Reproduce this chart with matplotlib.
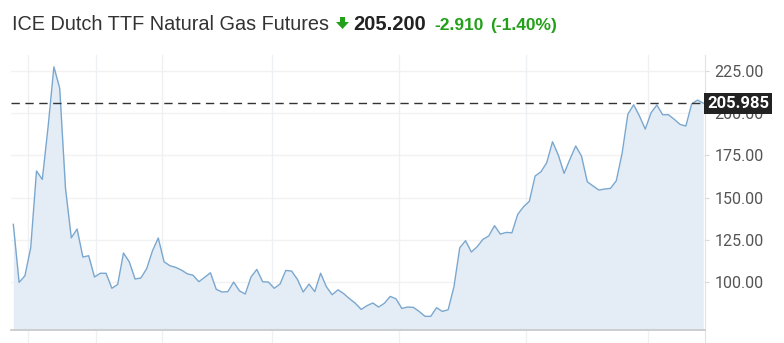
import matplotlib.pyplot as plt
from matplotlib.patches import FancyArrow
from matplotlib.transforms import IdentityTransform

# Daily settlement prices (EUR/MWh)
prices = [134.2, 99.8, 103.7, 120.3, 165.8, 160.8, 192.0, 227.5, 214.8, 155.5,
          126.2, 131.4, 114.8, 115.6, 103.0, 105.2, 105.2, 96.3, 98.6, 117.2,
          112.0, 101.8, 102.4, 107.9, 118.5, 126.1, 112.0, 109.7, 108.7, 107.1,
          104.9, 104.0, 100.2, 102.8, 105.5, 95.7, 94.1, 94.3, 100.0, 94.8,
          92.9, 103.0, 107.5, 100.2, 100.0, 96.3, 98.8, 106.9, 106.5, 101.6,
          94.1, 98.8, 94.3, 105.2, 97.2, 92.5, 95.4, 93.1, 90.1, 87.4,
          83.8, 86.0, 87.6, 85.2, 87.4, 91.5, 90.1, 84.4, 85.2, 85.0,
          82.6, 79.7, 79.7, 84.8, 82.6, 83.6, 97.2, 120.3, 124.5, 117.8,
          120.9, 125.3, 127.3, 133.4, 128.4, 129.4, 129.2, 140.1, 144.6, 147.8,
          162.8, 165.3, 170.7, 183.1, 175.2, 164.4, 172.7, 180.6, 174.6, 159.4,
          156.9, 154.5, 155.1, 155.5, 160.0, 176.2, 199.5, 205.0, 198.3, 190.6,
          200.3, 204.9, 199.1, 199.1, 196.4, 193.4, 192.4, 205.5, 207.8, 205.985]
days = list(range(len(prices)))

y_ticks = [100, 125, 150, 175, 200, 225]
month_lines = [2.6, 14.2, 25.6, 44.6, 66.6, 88.4, 109.4]

last_price = prices[-1]
title = "ICE Dutch TTF Natural Gas Futures"
quote = "205.200"
change = "-2.910"
change_pct = "(-1.40%)"

line_color = '#7aa7cf'
fill_color = '#e4edf5'
green = '#23a01a'

fig = plt.figure(figsize=(7.84, 3.43), dpi=100)
ax = fig.add_axes([11 / 784, 13 / 343, 694 / 784, 275 / 343])

ax.fill_between(days, prices, 60, color=fill_color, linewidth=0, zorder=1)
ax.plot(days, prices, color=line_color, linewidth=1.0, zorder=3)
ax.axhline(last_price, color='#333333', linewidth=1.0, dashes=(6, 4), zorder=4)

ax.set_xlim(-0.4, 119.3)
ax.set_ylim(71.6, 234.5)

# grid
for y in y_ticks:
    ax.axhline(y, color='#f2f2f2', linewidth=1.0, zorder=0)
for x in month_lines:
    ax.axvline(x, ymin=-0.05, ymax=1, color='#eef1f4', linewidth=1.0,
               clip_on=False, zorder=0)

ax.set_xticks([])
ax.yaxis.tick_right()
ax.set_yticks(y_ticks)
ax.set_yticklabels(['%.2f' % v for v in y_ticks])
ax.tick_params(axis='y', length=3, color='#d8d8d8', labelsize=11.5,
               labelcolor='#555555', pad=4)
for lbl in ax.get_yticklabels():
    lbl.set_fontfamily('Roboto')

for side in ['top', 'left']:
    ax.spines[side].set_visible(False)
ax.spines['bottom'].set_color('#c8c8c8')
ax.spines['bottom'].set_linewidth(1.2)
ax.spines['right'].set_color('#e2e2e2')
ax.spines['right'].set_bounds(71.6 - 0.05 * (234.5 - 71.6), 234.5)
ax.spines['right'].set_clip_on(False)

# last price tag
ax.text(1.003, last_price, '%.3f' % last_price, transform=ax.get_yaxis_transform(),
        ha='left', va='center', color='white', fontsize=12, fontweight='bold',
        family='Roboto', zorder=6,
        bbox=dict(boxstyle='square,pad=0.18', facecolor='#222222', edgecolor='none'))

# header
base_y = 313 / 343
fig.text(12 / 784, base_y, title, fontsize=14.3, color='#333333',
         family='Liberation Sans', va='baseline')
arrow = FancyArrow(342.5, 326, 0, -12, width=5, head_width=13, head_length=7,
                   length_includes_head=True, color=green, linewidth=0,
                   transform=IdentityTransform())
fig.add_artist(arrow)
fig.text(353 / 784, base_y, quote, fontsize=14.5, color='#222222',
         fontweight='bold', family='Liberation Sans', va='baseline')
fig.text(434 / 784, base_y, change, fontsize=12.5, color=green,
         fontweight='bold', family='Liberation Sans', va='baseline')
fig.text(490 / 784, base_y, change_pct, fontsize=12.5, color=green,
         fontweight='bold', family='Liberation Sans', va='baseline')

fig.savefig('out.png', dpi=100)
plt.close(fig)
